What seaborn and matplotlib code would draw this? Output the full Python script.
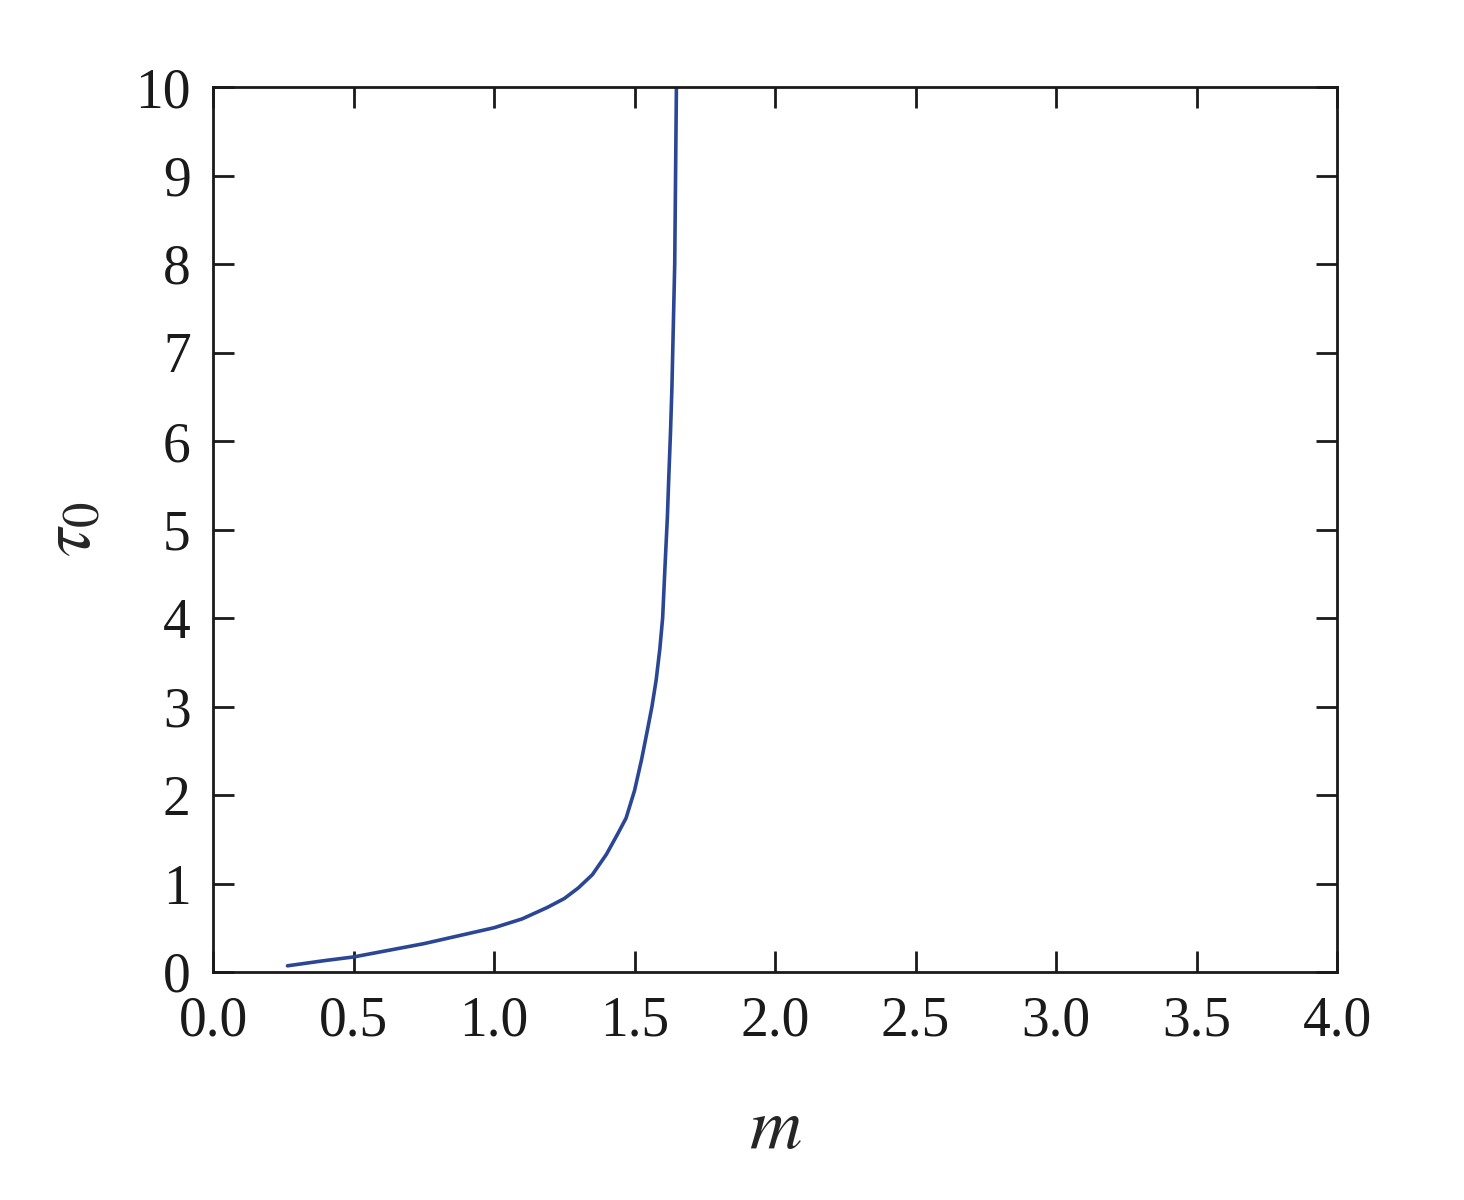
import matplotlib
matplotlib.use("Agg")
import matplotlib.pyplot as plt
import seaborn as sns
import pandas as pd

# curve values
m_vals = [0.265, 0.40, 0.50, 0.75, 1.00, 1.10, 1.19, 1.25, 1.30, 1.35, 1.40, 1.44,
          1.47, 1.50, 1.525, 1.545, 1.562, 1.577, 1.590, 1.600, 1.609, 1.617, 1.622,
          1.628, 1.633, 1.638, 1.643, 1.646, 1.649]
tau_vals = [0.07, 0.13, 0.17, 0.32, 0.50, 0.60, 0.73, 0.83, 0.95, 1.10, 1.33, 1.56,
            1.74, 2.05, 2.40, 2.72, 3.00, 3.30, 3.65, 4.00, 4.62, 5.15, 5.60,
            6.10, 6.60, 7.30, 8.00, 9.00, 10.00]

x_ticks = [0.0, 0.5, 1.0, 1.5, 2.0, 2.5, 3.0, 3.5, 4.0]
y_ticks = list(range(0, 11))

df = pd.DataFrame({"m": m_vals, "tau": tau_vals})

sns.set_style("ticks")
plt.rcParams["font.family"] = ["Liberation Serif", "DejaVu Serif"]
plt.rcParams["mathtext.fontset"] = "stix"

fig = plt.figure(figsize=(14.64, 12), dpi=100)
ax = fig.add_axes([0.1455, 0.19, 0.9133 - 0.1455, 0.9275 - 0.19])

sns.lineplot(data=df, x="m", y="tau", sort=False, color="#2a4694", linewidth=2.6, ax=ax)

ax.set_xlim(0, 4)
ax.set_ylim(0, 10)
ax.set_xticks(x_ticks)
ax.set_xticklabels([f"{v:.1f}" for v in x_ticks])
ax.set_yticks(y_ticks)
ax.set_yticklabels([str(v) for v in y_ticks])

ax.tick_params(direction="in", length=15, width=2, labelsize=40, top=True, right=True,
               colors="#1a1a1a")
ax.tick_params(axis="x", pad=17)
ax.tick_params(axis="y", pad=16)
for s in ax.spines.values():
    s.set_linewidth(2)
    s.set_color("#1a1a1a")

ax.set_xlabel(r"$m$", fontsize=52, labelpad=36)
ax.set_ylabel(r"$\tau_0$", fontsize=52, labelpad=22)

fig.savefig("out.png", dpi=100)
